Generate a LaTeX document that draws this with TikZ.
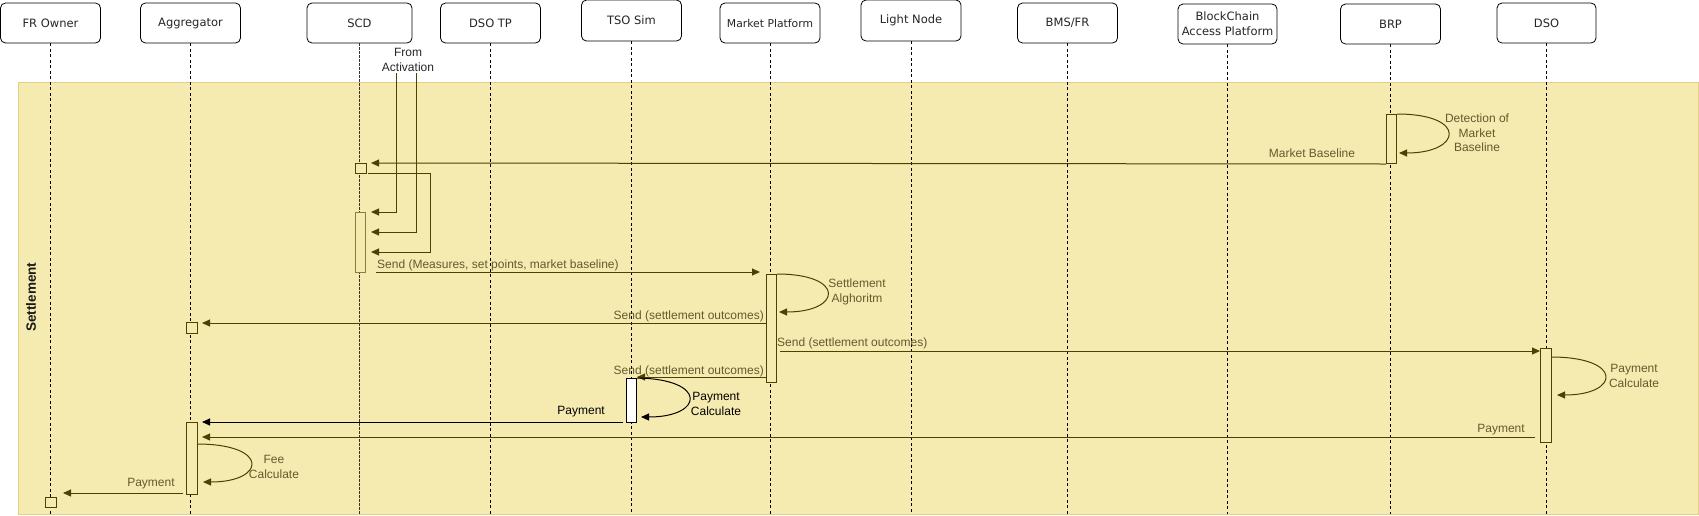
\documentclass[tikz,border=0pt]{standalone}
\usepackage{fontspec}
\setmainfont{Liberation Sans}
\newfontfamily\boxfont{DejaVu Sans}
\usetikzlibrary{arrows.meta}
\definecolor{lane}{RGB}{245,235,176}
\definecolor{laneborder}{RGB}{222,208,135}
\definecolor{ol}{RGB}{77,64,0}
\definecolor{oltext}{RGB}{100,90,45}
\definecolor{actborder}{RGB}{140,125,60}
\begin{document}
\begin{tikzpicture}[x=1pt,y=-1pt,
  actor/.style={draw=black, fill=white, rounded corners=5pt, line width=0.8pt,
    minimum width=100, minimum height=40, inner sep=0, align=center,
    font=\boxfont\fontsize{11.5}{15}\selectfont, text=black!85},
  lifeline/.style={draw=black, line width=0.8pt, dash pattern=on 3pt off 2.5pt},
  actbox/.style={draw=ol, fill=lane, line width=1pt, inner sep=0, minimum width=10, anchor=north west},
  msg/.style={draw=ol, line width=1pt, -{Triangle[length=8pt,width=7pt]}},
  lbl/.style={font=\fontsize{12}{14.5}\selectfont, text=oltext, inner sep=0, align=center},
]
\useasboundingbox (0,0) rectangle (1699,515);
% swimlane
\node[draw=laneborder, fill=lane, line width=1pt, minimum width=1680, minimum height=432, inner sep=0, anchor=north west] (lane) at (18,82) {};
\node[rotate=90, font=\bfseries\fontsize{13.5}{15}\selectfont, text=black!90] (lanetitle) at (31,297) {Settlement};
\coordinate (bot) at (0,514);

% actors
\node[actor] (fr) at (50.5,23) {FR Owner};
\node[actor] (agg) at (190.5,23) {Aggregator};
\node[actor, minimum width=105] (scd) at (359.5,23) {SCD};
\node[actor] (dsotp) at (490.5,23) {DSO TP};
\node[actor, minimum height=41] (tso) at (631.5,20.5) {TSO Sim};
\node[actor, font=\boxfont\fontsize{10.8}{15}\selectfont] (mp) at (770,23) {Market Platform};
\node[actor, minimum height=41] (ln) at (911,20.5) {Light Node};
\node[actor] (bms) at (1067.5,23) {BMS/FR};
\node[actor, minimum width=99, font=\boxfont\fontsize{11.5}{15}\selectfont] (bc) at (1227.5,24) {BlockChain\\Access Platform};
\node[actor] (brp) at (1390.5,24) {BRP};
\node[actor, minimum width=99] (dso) at (1546.5,23) {DSO};

% lifelines
\foreach \n in {fr,agg,dsotp,tso,mp,ln,bms,bc,brp,dso}{
  \draw[lifeline] (\n.south) -- (\n.south |- bot);
}
\draw[draw=black!80, line width=1.6pt, dash pattern=on 2.5pt off 1.5pt] (scd.south) -- (scd.south |- bot);

% activation boxes
\node[actbox, minimum height=49] (brpact) at (1386,114) {};
\node[actbox, minimum width=11, minimum height=10] (scdsmall) at (355,163) {};
\node[actbox, draw=actborder, minimum height=60] (scdact) at (355,212) {};
\node[actbox, minimum height=108] (mpact) at (766,274) {};
\node[actbox, minimum width=11, minimum height=11] (aggsmall) at (186,322) {};
\node[actbox, draw=black, fill=white, minimum height=44] (tsoact) at (626,378) {};
\node[actbox, minimum width=11, minimum height=94] (dsoact) at (1540,348) {};
\node[actbox, minimum width=11, minimum height=72] (aggact) at (186,422) {};
\node[actbox, minimum width=11, minimum height=10] (frsmall) at (45,497) {};

% --- BRP detection loop
\coordinate (brpin) at (1399,153);
\draw[msg] (brpact.north east) .. controls (1468,114) and (1462,153) .. (brpin);
\node[lbl] (detlbl) at (1477,133) {Detection of\\Market\\Baseline};

% --- Market Baseline
\coordinate (scdin) at (371,163);
\draw[msg] (brpact.south west) -- (scdin);
\node[lbl] (mblbl) at (1312,153) {Market Baseline};

% --- From Activation
\node[lbl, text=black!85] (fromact) at (408,60) {From\\Activation};
\coordinate (fa1) at (396,73);
\coordinate (fa2) at (416,73);
\coordinate (in1) at (371,212);
\coordinate (in2) at (371,232);
\coordinate (in3) at (371,252);
\draw[msg] (fa1) |- (in1);
\draw[msg] (fa2) |- (in2);
\coordinate (scdout) at (368,173);
\coordinate (bend3) at (430,173);
\draw[msg] (scdout) -- (bend3) |- (in3);

% --- Send measures
\coordinate (sendm0) at (376,272);
\coordinate (mpin) at (760,272);
\draw[msg] (sendm0) -- (mpin);
\node[lbl, anchor=west] (sendmlbl) at (377,265) {Send (Measures, set points, market baseline)};

% --- Settlement algorithm loop
\coordinate (mploop) at (779,312);
\draw[msg] (mpact.north east) .. controls (846,274) and (842,312) .. (mploop);
\node[lbl] (saLbl) at (857,292) {Settlement\\Alghoritm};

% --- Send settlement outcomes to Aggregator
\coordinate (mpout1) at (766,323);
\coordinate (aggin1) at (202,323);
\draw[msg] (mpout1) -- (aggin1);
\node[lbl, anchor=east] (so1) at (764,316) {Send (settlement outcomes)};

% --- Send settlement outcomes to DSO
\coordinate (mpout2) at (780,351);
\coordinate (dsoin) at (1540,351);
\draw[msg] (mpout2) -- (dsoin);
\node[lbl, anchor=west] (so2) at (777,343) {Send (settlement outcomes)};

% --- Send settlement outcomes to TSO Sim
\coordinate (mpout3) at (766,377);
\coordinate (tsoin) at (637,377);
\draw[msg] (mpout3) -- (tsoin);
\node[lbl, anchor=east] (so3) at (764,371) {Send (settlement outcomes)};

% --- TSO payment calculate loop
\coordinate (tsoloop) at (641,417);
\draw[msg, draw=black] (tsoact.north east) .. controls (708,379) and (704,417) .. (tsoloop);
\node[lbl, text=black] (tsopc) at (716,404) {Payment\\Calculate};

% --- Payment TSO -> Aggregator
\coordinate (tsoout) at (623,422);
\coordinate (aggin2) at (202,422);
\draw[msg, draw=black] (tsoout) -- (aggin2);
\node[lbl, text=black, anchor=east] (pay1) at (605,412) {Payment};

% --- DSO payment calculate loop
\coordinate (dsoloopA) at (1551,357);
\coordinate (dsoloopB) at (1557,395);
\draw[msg] (dsoloopA) .. controls (1624,357) and (1620,395) .. (dsoloopB);
\node[lbl] (dsopc) at (1634,376) {Payment\\Calculate};

% --- Payment DSO -> Aggregator
\coordinate (dsoout) at (1535,437);
\coordinate (aggin3) at (202,437);
\draw[msg] (dsoout) -- (aggin3);
\node[lbl] (pay2) at (1501,430) {Payment};

% --- Fee calculate loop
\coordinate (feeA) at (197,444);
\coordinate (feeB) at (203,482);
\draw[msg] (feeA) .. controls (270,444) and (266,482) .. (feeB);
\node[lbl] (feelbl) at (274,467) {Fee\\Calculate};

% --- Payment Aggregator -> FR Owner
\coordinate (aggout) at (183,493);
\coordinate (frin) at (63,493);
\draw[msg] (aggout) -- (frin);
\node[lbl] (pay3) at (151,484) {Payment};
\end{tikzpicture}
\end{document}
